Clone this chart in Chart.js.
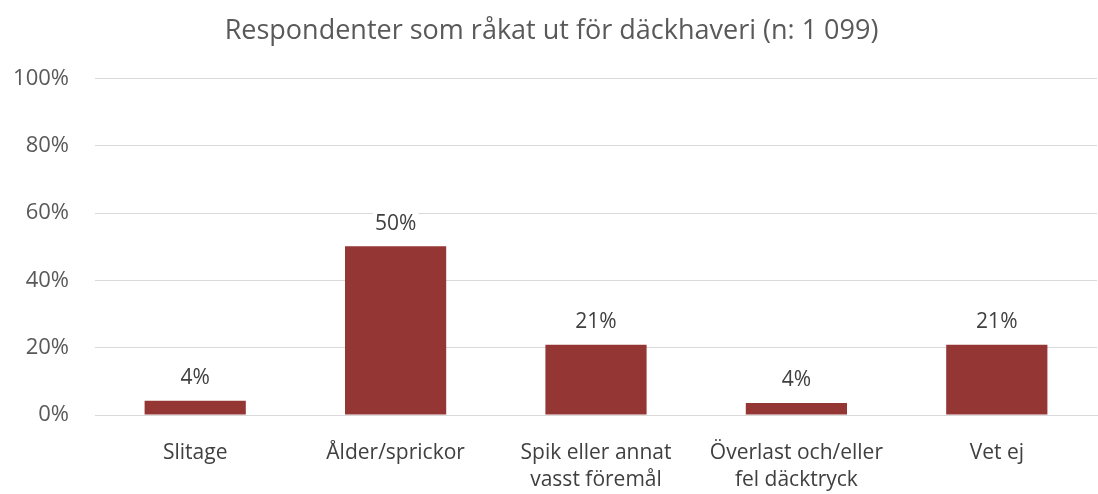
<!DOCTYPE html>
<html>
<head>
<meta charset="utf-8">
<script src="https://cdn.jsdelivr.net/npm/chart.js@4"></script>
<style>
  html, body { margin: 0; padding: 0; background: #fff; }
  #wrap { width: 1098px; height: 494px; }
</style>
</head>
<body>
<div id="wrap"><canvas id="grafico"></canvas></div>
<script>
const kategorier = [
  "Slitage",
  "Ålder/sprickor",
  ["Spik eller annat", "vasst föremål"],
  ["Överlast och/eller", "fel däcktryck"],
  "Vet ej"
];
const andelar = [4.2, 50.1, 20.9, 3.6, 20.9];
const yTicks = [0, 20, 40, 60, 80, 100];

const FONT = "'Open Sans', 'Liberation Sans', sans-serif";

// etiketter ovanför staplarna (vit bakgrund som i Excel)
const etiketter = {
  id: 'etiketter',
  afterDatasetsDraw(chart) {
    const c = chart.ctx;
    const meta = chart.getDatasetMeta(0);
    c.save();
    c.font = `21px ${FONT}`;
    c.textAlign = 'center';
    c.textBaseline = 'bottom';
    meta.data.forEach((bar, i) => {
      const txt = Math.round(andelar[i]) + '%';
      const w = c.measureText(txt).width;
      const y = bar.y - 12;
      c.fillStyle = '#fff';
      c.fillRect(bar.x - w / 2 - 2, y - 24, w + 4, 24);
      c.fillStyle = '#404040';
      c.fillText(txt, bar.x, y);
    });
    c.restore();
  }
};

const ctx = document.getElementById("grafico").getContext("2d");
new Chart(ctx, {
  type: 'bar',
  data: {
    labels: kategorier,
    datasets: [{
      data: andelar,
      backgroundColor: '#943634',
      categoryPercentage: 1,
      barPercentage: 0.505
    }]
  },
  options: {
    responsive: true,
    maintainAspectRatio: false,
    animation: false,
    layout: { padding: { left: 6, right: 1, top: 0, bottom: 0 } },
    plugins: {
      legend: { display: false },
      tooltip: { enabled: false },
      title: {
        display: true,
        text: 'Respondenter som råkat ut för däckhaveri (n: 1 099)',
        color: '#595959',
        font: { family: FONT, size: 27, weight: 'normal' },
        padding: { top: 15, bottom: 31 }
      }
    },
    scales: {
      x: {
        grid: { display: false },
        border: { color: '#d9d9d9', width: 1 },
        afterFit: axis => { axis.height = 79; },
        ticks: {
          color: '#404040',
          font: { family: FONT, size: 21, lineHeight: 1.3 },
          padding: 16,
          maxRotation: 0,
          autoSkip: false
        }
      },
      y: {
        min: 0,
        max: 100,
        afterBuildTicks: axis => { axis.ticks = yTicks.map(v => ({ value: v })); },
        afterFit: axis => { axis.width = 89; },
        grid: { color: '#d9d9d9', drawTicks: false },
        border: { display: false },
        ticks: {
          color: '#595959',
          font: { family: FONT, size: 22 },
          padding: 26,
          callback: v => v + '%'
        }
      }
    }
  },
  plugins: [etiketter]
});
</script>
</body>
</html>
